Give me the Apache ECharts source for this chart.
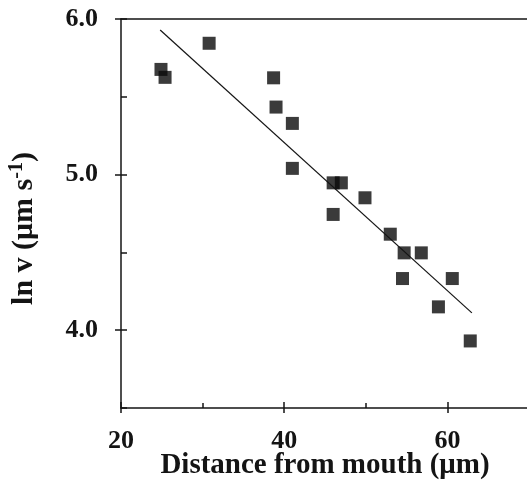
<!DOCTYPE html>
<html><head><meta charset="utf-8">
<script src="https://cdn.jsdelivr.net/npm/echarts@6/dist/echarts.min.js"></script>
<style>html,body{margin:0;padding:0;background:#fff}#c{width:527px;height:491px}</style>
</head><body><div id="c"></div>
<script>
var distance = [24.9, 25.4, 30.8, 38.7, 39.0, 41.0, 41.0, 46.0, 47.0, 49.9, 46.0, 53.0, 54.7, 56.8, 54.5, 60.6, 58.9, 62.8];
var lnV = [5.676, 5.625, 5.844, 5.622, 5.434, 5.329, 5.040, 4.947, 4.947, 4.851, 4.744, 4.617, 4.497, 4.497, 4.332, 4.332, 4.150, 3.931];
var fitX = [24.8, 63.0];
var fitY = [5.929, 4.111];
var xTicks = [20, 40, 60];
var yTicks = ['4.0', '5.0', '6.0'];
var yMajor = [4, 5, 6];

var pts = distance.map(function (d, i) { return [d, lnV[i]]; });
var fit = fitX.map(function (d, i) { return [d, fitY[i]]; });
var font = 'Liberation Serif';
var ink = '#141414';

var chart = echarts.init(document.getElementById('c'));
chart.setOption({
  animation: false,
  grid: { left: 121, top: 19, width: 408, height: 389, show: false, outerBoundsMode: 'none', containLabel: false },
  xAxis: [{
    type: 'value', min: 20, max: 70, interval: 20,
    axisLine: { lineStyle: { color: ink, width: 1.5 } },
    axisTick: { inside: true, length: 6, lineStyle: { color: ink, width: 1.5 } },
    minorTick: { show: true, splitNumber: 2, length: 5, lineStyle: { color: ink, width: 1.5 } },
    splitLine: { show: false },
    axisLabel: { margin: 20, fontFamily: font, fontWeight: 'bold', fontSize: 26, color: ink,
      formatter: function (v) { return xTicks.indexOf(v) >= 0 ? String(v) : ''; } },
    name: 'Distance from mouth (\u03bcm)', nameLocation: 'middle', nameGap: 43, nameMoveOverlap: false,
    nameTextStyle: { fontFamily: font, fontWeight: 'bold', fontSize: 29, color: ink }
  }, {
    type: 'value', min: 20, max: 70, interval: 20, position: 'bottom',
    axisLine: { show: false }, axisLabel: { show: false }, splitLine: { show: false },
    axisTick: { inside: false, length: 5, customValues: xTicks, lineStyle: { color: ink, width: 1.5 } }
  }, {
    type: 'value', min: 20, max: 70, position: 'top',
    axisLine: { show: true, lineStyle: { color: ink, width: 1.5 } },
    axisTick: { show: false }, axisLabel: { show: false }, splitLine: { show: false }
  }],
  yAxis: [{
    type: 'value', min: 3.5, max: 6.0, interval: 0.5,
    axisLine: { lineStyle: { color: ink, width: 1.5 } },
    axisTick: { inside: true, length: 6, lineStyle: { color: ink, width: 1.5 } },
    splitLine: { show: false },
    axisLabel: { margin: 23, fontFamily: font, fontWeight: 'bold', fontSize: 26, color: ink,
      formatter: function (v) { var s = v.toFixed(1); return yTicks.indexOf(s) >= 0 ? s : ''; } },
    name: 'ln v (\u03bcm s{sup|-1})', nameLocation: 'middle', nameGap: 80, nameRotate: 90, nameMoveOverlap: false,
    nameTextStyle: { fontFamily: font, fontWeight: 'bold', fontSize: 30, color: ink, padding: [0, 30, 0, 0],
      rich: { sup: { fontFamily: font, fontWeight: 'bold', fontSize: 20, color: ink, verticalAlign: 'top', padding: [0, 0, 14, 0] } } }
  }, {
    type: 'value', min: 3.5, max: 6.0, position: 'left',
    axisLine: { show: false }, axisLabel: { show: false }, splitLine: { show: false },
    axisTick: { inside: false, length: 6, customValues: yMajor, lineStyle: { color: ink, width: 1.5 } }
  }],
  series: [{
    type: 'line', data: fit, symbol: 'none', silent: true,
    lineStyle: { color: ink, width: 1.2 }
  }, {
    type: 'scatter', data: pts, symbol: 'rect', symbolSize: 13,
    itemStyle: { color: '#0a0a0a' }
  }]
});
</script></body></html>
